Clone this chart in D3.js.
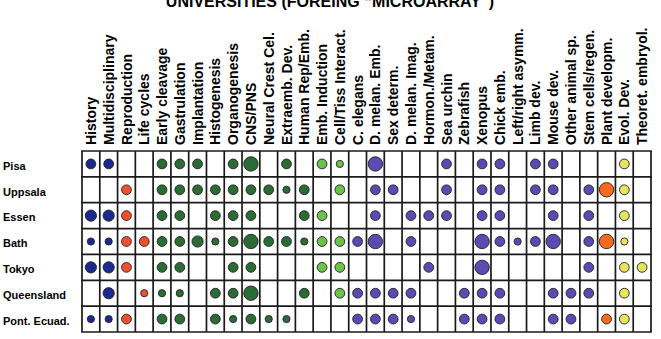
<!DOCTYPE html>
<html>
<head>
<meta charset="utf-8">
<script src="https://cdn.jsdelivr.net/npm/d3@7"></script>
<style>
  html, body { margin: 0; padding: 0; background: #fff; }
  svg { display: block; }
  text { font-family: "Liberation Sans", Arial, Helvetica, sans-serif; font-weight: bold; fill: #000; }
</style>
</head>
<body>
<svg id="chart" width="661" height="339"></svg>
<script>
const title = "UNIVERSITIES (FOREING \u201CMICROARRAY\u201D)";

const columns = ["History", "Multidisciplinary", "Reproduction", "Life cycles", "Early cleavage",
  "Gastrulation", "Implantation", "Histogenesis", "Organogenesis", "CNS/PNS", "Neural Crest Cel.",
  "Extraemb. Dev.", "Human Rep/Emb.", "Emb. Induction", "Cell/Tiss Interact.", "C. elegans",
  "D. melan. Emb.", "Sex determ.", "D. melan. Imag.", "Hormon./Metam.", "Sea urchin", "Zebrafish",
  "Xenopus", "Chick emb.", "Left/right asymm.", "Limb dev.", "Mouse dev.", "Other animal sp.",
  "Stem cells/regen.", "Plant developm.", "Evol. Dev.", "Theoret. embryol."];

const columnGroup = ["general", "general", "repro", "repro",
  "emb", "emb", "emb", "emb", "emb", "emb", "emb", "emb", "emb",
  "cell", "cell",
  "model", "model", "model", "model", "model", "model", "model", "model", "model", "model",
  "model", "model", "model", "model",
  "plant", "evo", "evo"];

const groups = ["general", "repro", "emb", "cell", "model", "plant", "evo"];
const groupColors = ["#1b2a8e", "#f2502c", "#2a6c34", "#6cc24a", "#5a4bb2", "#f86a1e", "#e6e45c"];

const universities = ["Pisa", "Uppsala", "Essen", "Bath", "Tokyo", "Queensland", "Pont. Ecuad."];

// size codes: 0 = none, 1 = small, 2 = medium, 3 = medium-large, 4 = large
const pisa       = [2,2,0,0,2,2,2,0,2,4,0,2,0,2,1,0,4,0,0,0,2,0,2,2,0,2,2,0,0,0,2,0];
const uppsala    = [0,0,2,0,2,2,2,2,2,2,2,1,2,0,2,0,2,2,0,0,2,0,2,2,0,2,2,0,2,4,2,0];
const essen      = [3,3,2,0,2,2,0,2,2,2,0,0,2,2,0,0,2,0,2,2,2,0,2,2,0,0,2,0,2,0,2,0];
const bath       = [1,1,2,2,2,2,3,1,2,4,2,2,1,2,2,2,4,0,2,0,0,0,4,2,1,2,4,0,2,4,1,0];
const tokyo      = [3,3,2,0,2,2,0,0,2,2,0,0,0,2,2,0,0,0,0,2,0,0,4,0,0,0,0,0,2,0,2,2];
const queensland = [0,3,0,1,1,1,0,2,2,4,0,0,2,0,2,2,2,2,2,0,0,2,2,2,0,0,2,2,2,0,2,0];
const pontEcuad  = [1,1,2,0,2,2,0,2,1,2,1,1,0,0,0,2,2,2,1,0,0,2,2,2,0,0,2,2,0,2,2,0];

const rowValues = [pisa, uppsala, essen, bath, tokyo, queensland, pontEcuad];

const svg = d3.select("#chart");

const x = d3.scaleBand().domain(columns).range([82, 651]).paddingInner(0).paddingOuter(0);
const y = d3.scaleBand().domain(universities).range([151, 332]).paddingInner(0).paddingOuter(0);
const r = d3.scaleLinear().domain([1, 2, 3, 4]).range([3.6, 4.9, 5.6, 7.2]);
const color = d3.scaleOrdinal().domain(groups).range(groupColors);

// Title
svg.append("text")
  .attr("x", 330)
  .attr("y", 7)
  .attr("text-anchor", "middle")
  .style("font-size", "16px")
  .text(title);

// Column labels (rotated)
svg.append("g").selectAll("text")
  .data(columns)
  .join("text")
  .attr("transform", d => `translate(${x(d) + x.bandwidth() / 2},145) rotate(-90)`)
  .attr("dy", "0.36em")
  .style("font-size", "14px")
  .text(d => d);

// Row labels
svg.append("g").selectAll("text")
  .data(universities)
  .join("text")
  .attr("x", 3)
  .attr("y", d => y(d) + y.bandwidth() / 2 + 2)
  .attr("dy", "0.35em")
  .style("font-size", "11px")
  .text(d => d);

// Grid
const grid = svg.append("g").attr("stroke", "#1a1a1a").attr("stroke-width", 1.7);
grid.selectAll("line.v")
  .data(columns.concat([null]))
  .join("line")
  .attr("class", "v")
  .attr("x1", (d, i) => i < columns.length ? x(d) : x.range()[1])
  .attr("x2", (d, i) => i < columns.length ? x(d) : x.range()[1])
  .attr("y1", y.range()[0])
  .attr("y2", y.range()[1]);
grid.selectAll("line.h")
  .data(universities.concat([null]))
  .join("line")
  .attr("class", "h")
  .attr("y1", (d, i) => i < universities.length ? y(d) : y.range()[1])
  .attr("y2", (d, i) => i < universities.length ? y(d) : y.range()[1])
  .attr("x1", x.range()[0] - 0.85)
  .attr("x2", x.range()[1] + 0.85);

// Circles
const cells = [];
universities.forEach((u, ri) => {
  rowValues[ri].forEach((v, ci) => {
    if (v > 0) cells.push({ u, c: columns[ci], g: columnGroup[ci], v });
  });
});

svg.append("g").selectAll("circle")
  .data(cells)
  .join("circle")
  .attr("cx", d => x(d.c) + x.bandwidth() / 2)
  .attr("cy", d => y(d.u) + y.bandwidth() / 2)
  .attr("r", d => r(d.v))
  .attr("fill", d => color(d.g))
  .attr("stroke", "#222")
  .attr("stroke-width", 0.9);
</script>
</body>
</html>
